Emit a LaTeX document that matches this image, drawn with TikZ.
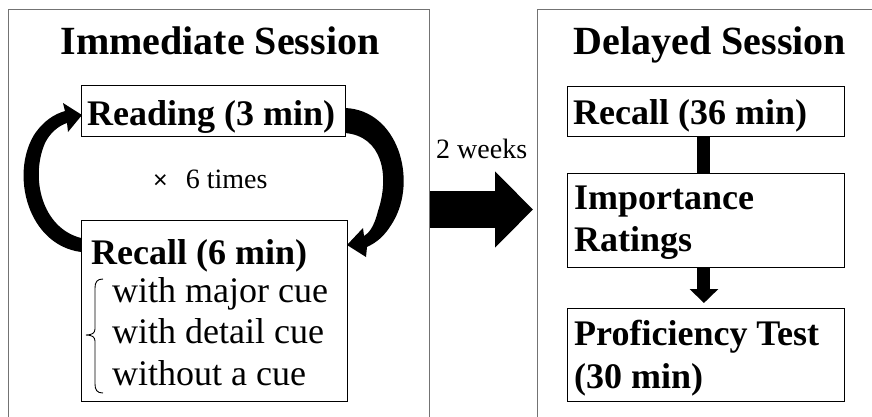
\documentclass[tikz,border=0pt]{standalone}
\usepackage{fontspec}
\setmainfont{Liberation Serif}
\newfontfamily\symfont{Liberation Sans}
\usetikzlibrary{arrows.meta,calc}
\begin{document}
\begin{tikzpicture}[x=1pt,y=-1pt,
  outerbox/.style={draw=black!55, line width=1.3pt, inner sep=0pt, anchor=north west},
  inbox/.style={draw=black, line width=0.9pt, inner sep=0pt, anchor=north west},
  titletext/.style={font=\fontsize{40}{48}\selectfont\bfseries, inner sep=0pt, anchor=base},
  boldtext/.style={font=\fontsize{36}{40}\selectfont\bfseries, inner sep=0pt, anchor=base west},
  regtext/.style={font=\fontsize{36}{40}\selectfont, inner sep=0pt, anchor=base west},
  smalltext/.style={font=\fontsize{28}{32}\selectfont, inner sep=0pt, anchor=base west},
  barline/.style={line width=13pt},
]
\useasboundingbox (0,0) rectangle (872,416);
\fill[white] (0,0) rectangle (872,416);
\clip (0,0) rectangle (872,416);

% outer session boxes
\node[outerbox, minimum width=421pt, minimum height=430pt] (imm) at (8,9) {};
\node[outerbox, minimum width=400pt, minimum height=430pt] (del) at (537,9) {};

\node[titletext] (t1) at (220,54) {Immediate Session};
\node[titletext] (t2) at (710,54) {Delayed Session};

% inner boxes
\node[inbox, minimum width=264pt, minimum height=51pt] (read) at (81,85) {};
\node[inbox, minimum width=266pt, minimum height=181pt] (rec6) at (81,220) {};
\node[inbox, minimum width=277pt, minimum height=50pt] (rec36) at (567,86) {};
\node[inbox, minimum width=277pt, minimum height=94pt] (imp) at (567,173) {};
\node[inbox, minimum width=277pt, minimum height=93pt] (prof) at (567,308) {};

% texts
\node[boldtext] (readt) at (87,125) {Reading (3 min)};
\node[boldtext] (rec6t) at (91,264) {Recall (6 min)};
\node[regtext] (c1) at (112,302) {with major cue};
\node[regtext] (c2) at (112,343) {with detail cue};
\node[regtext] (c3) at (112,385) {without a cue};
\node[boldtext] (rec36t) at (573,124) {Recall (36 min)};
\node[boldtext] (impt1) at (574,209) {Importance};
\node[boldtext] (impt2) at (574,251) {Ratings};
\node[boldtext] (proft1) at (574,345) {Proficiency Test};
\node[boldtext] (proft2) at (574,388) {(30 min)};
\node[smalltext] (times) at (153,188) {{\symfont\fontsize{25}{28}\selectfont ×}\hspace{18pt}6 times};
\node[smalltext] (weeks) at (436,158) {2 weeks};

% brace
\draw[line width=0.9pt] (103,279) .. controls (97,279) and (95,282) .. (95,288) -- (95,329)
  .. controls (95,333) and (92,335) .. (86,335) .. controls (92,335) and (95,337) .. (95,341)
  -- (95,384) .. controls (95,390) and (97,393) .. (103,393);

% curved arrows (tapered)
\fill (81,252) .. controls (28,245) and (10,175) .. (34,135) .. controls (44,120) and (55,114) .. (65,111)
  -- (63,103) -- (82,115) -- (68,132) -- (67,123)
  .. controls (58,126) and (50,133) .. (45,143) .. controls (30,178) and (42,228) .. (81,238) -- cycle;
\fill (345,108) .. controls (398,110) and (418,180) .. (393,222) .. controls (384,237) and (377,242) .. (367,247)
  -- (366,257) -- (347,245) -- (363,228) -- (364,236)
  .. controls (369,233) and (374,227) .. (378,211) .. controls (390,175) and (382,136) .. (345,133) -- cycle;

% 2 weeks arrow
\coordinate (amid) at (0,209.5);
\draw[line width=37pt, -{Triangle[length=38pt,width=74pt]}] (imm.east |- amid) -- ($(del.west |- amid)+(-4,0)$);

% delayed session connectors
\draw[barline] ([xshift=-2pt]rec36.south) -- ([xshift=-2pt]imp.north);
\draw[barline, -{Triangle[length=14pt,width=28pt]}] ([xshift=-2pt]imp.south) -- ([xshift=-2pt,yshift=5pt]prof.north);
\end{tikzpicture}
\end{document}
